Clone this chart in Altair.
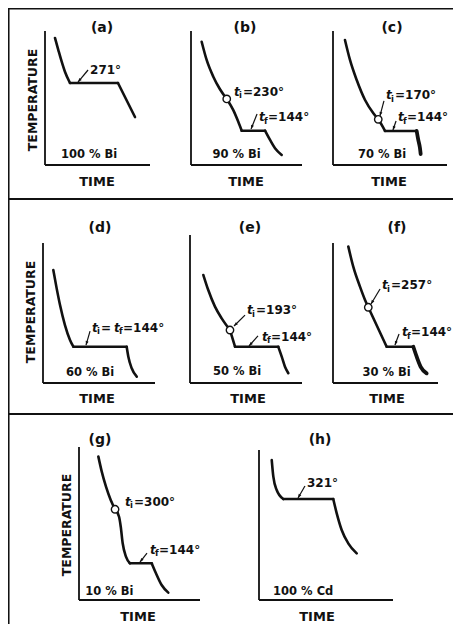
import altair as alt
import pandas as pd

# ---------------------------------------------------------------- data
# Every curve value is a relative reading on its own panel:
# time = 0-100 % along the TIME axis, temp = 0-100 % up the TEMPERATURE axis.
panel_ids = ["a", "b", "c", "d", "e", "f", "g", "h"]
panel_titles = ["(a)", "(b)", "(c)", "(d)", "(e)", "(f)", "(g)", "(h)"]
compositions = ["100 % Bi", "90 % Bi", "70 % Bi", "60 % Bi", "50 % Bi", "30 % Bi", "10 % Bi", "100 % Cd"]
composition_time = [42, 41, 43, 42, 42, 51, 25, 33]
composition_temp = [7.5, 7.5, 7.5, 7.1, 7.1, 7.1, 5.2, 5.3]

curve_a = [
    [(9.5, 94.8), (12.7, 85.8), (15.9, 77.1), (19.0, 69.6), (23.8, 61.2)],
    [(23.8, 61.2), (69.5, 61.2)],
    [(69.5, 61.2), (85.7, 35.8)],
]
curve_b = [
    [(9.6, 92.0), (14.1, 78.4), (20.1, 65.9), (26.1, 56.5), (32.2, 49.3)],
    [(32.2, 49.3), (38.1, 41.0), (42.6, 32.3), (45.7, 25.6)],
    [(45.7, 25.6), (66.7, 25.6)],
    [(66.7, 25.6), (71.2, 18.7), (75.7, 12.5), (81.7, 7.5)],
]
curve_c = [
    [(10.5, 93.3), (14.9, 78.4), (20.8, 63.4), (28.1, 48.5), (35.4, 38.6), (39.7, 34.1)],
    [(39.7, 34.1), (43.6, 28.6), (45.6, 25.4)],
    [(45.6, 25.4), (73.4, 25.4)],
    [(73.4, 25.4), (74.8, 18.7), (76.3, 12.5), (76.9, 8.2)],
]
curve_d = [
    [(9.2, 80.7), (12.2, 67.6), (15.2, 55.7), (19.6, 41.4), (24.1, 30.7), (27.1, 25.9)],
    [(27.1, 25.9), (74.7, 25.9)],
    [(74.7, 25.9), (76.2, 18.8), (79.2, 10.5), (83.7, 4.5)],
]
curve_e = [
    [(11.9, 73.0), (16.3, 62.8), (22.3, 51.6), (28.3, 43.7), (35.7, 35.8)],
    [(35.7, 35.8), (40.2, 24.5)],
    [(40.2, 24.5), (78.8, 24.5)],
    [(78.8, 24.5), (81.9, 17.8), (84.8, 11.0), (87.8, 6.6)],
]
curve_f = [
    [(14.6, 97.4), (19.3, 83.1), (25.7, 68.8), (30.5, 59.3), (33.6, 54.1)],
    [(33.6, 54.1), (51.1, 25.9)],
    [(51.1, 25.9), (76.5, 25.9)],
    [(76.5, 25.9), (79.7, 18.8), (83.5, 11.6), (89.2, 6.9)],
]
curve_g = [
    [(16.0, 93.7), (18.8, 83.9), (22.3, 74.1), (26.2, 65.4), (29.8, 59.3)],
    [(29.8, 59.3), (33.1, 54.4), (34.5, 47.9), (36.1, 37.1), (38.8, 28.3), (42.1, 24.0)],
    [(42.1, 24.0), (60.1, 24.0)],
    [(60.1, 24.0), (63.6, 17.5), (68.3, 9.8), (73.8, 4.8)],
]
curve_h = [
    [(9.5, 93.3), (10.7, 82.2), (13.2, 73.3), (18.1, 67.3)],
    [(18.1, 67.3), (55.4, 67.3)],
    [(55.4, 67.3), (58.0, 57.8), (61.7, 46.7), (66.6, 37.8), (72.9, 31.1)],
]

# open circles: start of freezing (liquidus)
liquidus_panel = ["b", "c", "e", "f", "g"]
liquidus_time = [32.2, 39.7, 35.7, 33.6, 29.8]
liquidus_temp = [49.3, 34.1, 35.8, 54.1, 59.3]

# temperature notes
note_panel = ["a", "b", "b", "c", "c", "d", "e", "e", "f", "f", "g", "g", "h"]
note_kind = ["plain", "i", "f", "i", "f", "if", "i", "f", "i", "f", "i", "f", "plain"]
note_value = ["271°", "230°", "144°", "170°", "144°", "144°", "193°", "144°", "257°", "144°", "300°", "144°", "321°"]
note_time = [42.9, 38.7, 61.3, 46.5, 57.0, 43.8, 50.9, 64.3, 46.7, 65.7, 38.0, 58.7, 35.8]
note_temp = [70.9, 54.5, 35.8, 52.2, 35.8, 39.3, 49.3, 31.1, 70.0, 36.4, 64.1, 32.7, 78.0]

# little pointer arrows (tail -> head)
arrow_panel = ["a", "b", "c", "c", "d", "e", "e", "f", "f", "g", "h"]
arrow_time_from = [41.0, 59.5, 44.7, 55.3, 42.0, 49.1, 60.7, 44.8, 62.9, 56.2, 34.3]
arrow_temp_from = [70.9, 38.1, 47.8, 32.8, 37.1, 45.9, 31.8, 67.1, 35.0, 30.7, 76.0]
arrow_time_to = [31.4, 54.1, 41.2, 52.6, 38.4, 39.3, 52.7, 36.2, 59.0, 50.4, 29.1]
arrow_temp_to = [61.9, 26.9, 36.6, 26.1, 27.1, 38.5, 25.0, 56.4, 27.1, 24.8, 68.0]

# ---------------------------------------------------------------- layout / style
W, H = 445, 616
INK = "#111111"
FONT = "DejaVu Sans"
thick_segments = {("c", 3), ("f", 3)}

layout = pd.DataFrame({
    "panel": panel_ids,
    "title": panel_titles,
    "x0": [45, 191, 333, 43, 190, 333, 79, 259],
    "y0": [165, 165, 165, 383, 383, 383, 600, 600],
    "w": [105, 111, 114, 112, 112, 105, 121, 134],
    "h": [134, 134, 134, 140, 148, 140, 153, 150],
    "title_x": [102, 245, 392, 100, 250, 397, 100, 320],
    "title_y": [28, 28, 28, 228, 228, 228, 440, 440],
    "time_x": [97, 246, 389, 97, 248, 387, 138, 317],
    "time_y": [182, 182, 182, 399, 399, 399, 617, 617],
})
ylabels = pd.DataFrame({"x": [33, 31, 67], "y": [100, 312, 525], "text": ["TEMPERATURE"] * 3})
frame = pd.DataFrame({"y": [8.75, 199, 414], "sw": [1.6, 2.2, 2.2]})

XS = alt.Scale(domain=[8, 8 + W], nice=False, zero=False)
YS = alt.Scale(domain=[8, 8 + H], nice=False, zero=False, reverse=True)


def X(f):
    return alt.X(f"{f}:Q", scale=XS, axis=None)


def Y(f):
    return alt.Y(f"{f}:Q", scale=YS, axis=None)


GX = "datum.x0 + datum.time * datum.w / 100"
GY = "datum.y0 - datum.temp * datum.h / 100"

# ---------------------------------------------------------------- tables
curves = dict(zip(panel_ids, [curve_a, curve_b, curve_c, curve_d, curve_e, curve_f, curve_g, curve_h]))
rows = []
for p in panel_ids:
    for si, seg in enumerate(curves[p]):
        for k, (t, T) in enumerate(seg):
            rows.append({"panel": p, "key": f"{p}{si}", "idx": k, "time": t, "temp": T,
                         "sw": 3.8 if (p, si) in thick_segments else 2.6})
curve_df = pd.DataFrame(rows).merge(layout, on="panel")

liq_df = pd.DataFrame({"panel": liquidus_panel, "time": liquidus_time, "temp": liquidus_temp}).merge(layout, on="panel")

comp_df = pd.DataFrame({"panel": panel_ids, "text": compositions,
                        "time": composition_time, "temp": composition_temp}).merge(layout, on="panel")

parts = []
for p, kind, val, t, T in zip(note_panel, note_kind, note_value, note_time, note_temp):
    if kind == "plain":
        pieces = [(val, 0, 0, "main")]
    elif kind == "if":
        pieces = [("t", 0, 0, "ital"), ("i", 5, 3.5, "sub"), ("=", 9, 0, "main"),
                  ("t", 22, 0, "ital"), ("f", 27, 3.5, "sub"), ("=" + val, 31, 0, "main")]
    else:
        pieces = [("t", 0, 0, "ital"), (kind, 5, 3.5, "sub"), ("=" + val, 9, 0, "main")]
    for txt, dx, dy, style in pieces:
        parts.append({"panel": p, "time": t, "temp": T, "text": txt, "dx": dx, "dy": dy, "style": style})
parts_df = pd.DataFrame(parts).merge(layout, on="panel")

arrow_df = pd.DataFrame({"panel": arrow_panel, "t1": arrow_time_from, "T1": arrow_temp_from,
                         "t2": arrow_time_to, "T2": arrow_temp_to}).merge(layout, on="panel")

# ---------------------------------------------------------------- layers
frame_h = alt.Chart(frame).mark_rule(color=INK).encode(
    y=Y("y"), x=alt.value(0), x2=alt.value(W), strokeWidth=alt.StrokeWidth("sw:Q", scale=None))
frame_v = alt.Chart(pd.DataFrame({"x": [8.75]})).mark_rule(color=INK, strokeWidth=1.6).encode(
    x=X("x"), y=alt.value(0), y2=alt.value(H))

y_axes = alt.Chart(layout).transform_calculate(top="datum.y0 - datum.h").mark_rule(
    color=INK, strokeWidth=1.8).encode(x=X("x0"), y=Y("y0"), y2=alt.Y2("top:Q"))
x_axes = alt.Chart(layout).transform_calculate(right="datum.x0 + datum.w").mark_rule(
    color=INK, strokeWidth=1.8).encode(x=X("x0"), x2=alt.X2("right:Q"), y=Y("y0"))

lines = alt.Chart(curve_df).transform_calculate(gx=GX, gy=GY).mark_line(
    interpolate="monotone", color=INK, strokeCap="round", strokeJoin="round").encode(
    x=X("gx"), y=Y("gy"), detail="key:N", order="idx:Q",
    strokeWidth=alt.StrokeWidth("sw:Q", scale=None))

circles = alt.Chart(liq_df).transform_calculate(gx=GX, gy=GY).mark_point(
    shape="circle", filled=True, fill="white", stroke=INK, strokeWidth=1.4, size=55, opacity=1).encode(
    x=X("gx"), y=Y("gy"))

arrow_calc = dict(
    gx1="datum.x0 + datum.t1 * datum.w / 100", gy1="datum.y0 - datum.T1 * datum.h / 100",
    gx2="datum.x0 + datum.t2 * datum.w / 100", gy2="datum.y0 - datum.T2 * datum.h / 100",
)
shafts = alt.Chart(arrow_df).transform_calculate(**arrow_calc).mark_rule(
    color=INK, strokeWidth=1.2).encode(x=X("gx1"), y=Y("gy1"), x2=alt.X2("gx2:Q"), y2=alt.Y2("gy2:Q"))
heads = alt.Chart(arrow_df).transform_calculate(**arrow_calc).transform_calculate(
    ang="(atan2(datum.gx2 - datum.gx1, datum.gy1 - datum.gy2) * 180 / PI + 360) % 360").mark_point(
    shape="M0,0L-0.75,2L0.75,2Z", filled=True, color=INK, size=16, opacity=1).encode(
    x=X("gx2"), y=Y("gy2"), angle=alt.Angle("ang:Q", scale=None))

titles = alt.Chart(layout).mark_text(
    font=FONT, fontSize=14, fontWeight="bold", color=INK, align="center", baseline="middle").encode(
    x=X("title_x"), y=Y("title_y"), text="title:N")
time_labels = alt.Chart(layout).transform_calculate(lab="'TIME'").mark_text(
    font=FONT, fontSize=13, fontWeight="bold", color=INK, align="center", baseline="middle").encode(
    x=X("time_x"), y=Y("time_y"), text="lab:N")
temp_labels = alt.Chart(ylabels).mark_text(
    font=FONT, fontSize=12.5, fontWeight="bold", color=INK, align="center", baseline="middle", angle=270).encode(
    x=X("x"), y=Y("y"), text="text:N")
comp_labels = alt.Chart(comp_df).transform_calculate(gx=GX, gy=GY).mark_text(
    font=FONT, fontSize=11.5, fontWeight="bold", color=INK, align="center", baseline="middle").encode(
    x=X("gx"), y=Y("gy"), text="text:N")


def note_layer(style, size, font_style):
    return alt.Chart(parts_df).transform_filter(f"datum.style == '{style}'").transform_calculate(
        gx=GX + " + datum.dx", gy=GY + " + datum.dy").mark_text(
        font=FONT, fontSize=size, fontStyle=font_style, fontWeight="bold", color=INK,
        align="left", baseline="middle").encode(
        x=X("gx"), y=Y("gy"), text="text:N")


notes = [note_layer("main", 12, "normal"), note_layer("ital", 12, "italic"), note_layer("sub", 8.5, "normal")]

chart = alt.layer(
    frame_h, frame_v, y_axes, x_axes, lines, shafts, heads, circles,
    titles, time_labels, temp_labels, comp_labels, *notes,
).properties(
    width=W, height=H, padding=0, autosize=alt.AutoSizeParams(type="none"), background="white",
).configure_view(stroke=None)

chart.save("out.html", embed_options={"renderer": "svg", "actions": False})
